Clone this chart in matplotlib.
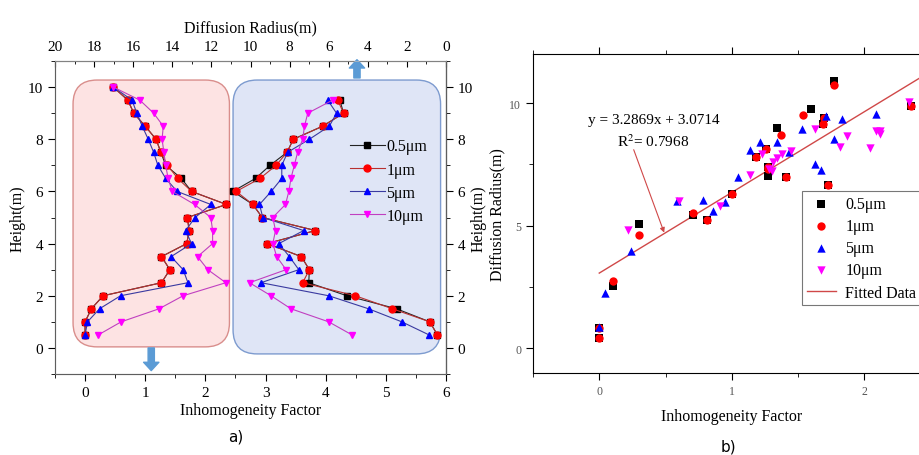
import matplotlib
matplotlib.use('Agg')
import matplotlib.pyplot as plt
from matplotlib.patches import FancyBboxPatch
from matplotlib.ticker import MultipleLocator

plt.rcParams['font.family'] = ['Liberation Serif', 'DejaVu Serif']
plt.rcParams['mathtext.fontset'] = 'stix'

# heights of the measuring points (m)
heights = [0.5, 1.0, 1.5, 2.0, 2.5, 3.0, 3.5, 4.0, 4.5, 5.0,
           5.5, 6.0, 6.5, 7.0, 7.5, 8.0, 8.5, 9.0, 9.5, 10.0]

# inhomogeneity factor per particle size (h = 0.5 ... 10)
if_05 = [0.0, 0.0, 0.105, 0.30, 1.27, 1.41, 1.27, 1.69, 1.73, 1.70,
         2.35, 1.77, 1.60, 1.34, 1.26, 1.18, 1.00, 0.81, 0.71, 0.47]
if_1 = [0.0, 0.0, 0.105, 0.30, 1.27, 1.41, 1.27, 1.69, 1.73, 1.70,
        2.35, 1.77, 1.54, 1.37, 1.26, 1.18, 1.00, 0.81, 0.71, 0.47]
if_5 = [0.0, 0.04, 0.24, 0.59, 1.71, 1.63, 1.43, 1.77, 1.67, 1.83,
        2.09, 1.53, 1.34, 1.21, 1.14, 1.05, 0.95, 0.86, 0.78, 0.47]
if_10 = [0.22, 0.60, 1.23, 1.63, 2.34, 2.04, 1.87, 2.12, 2.12, 2.09,
         1.82, 1.45, 1.38, 1.34, 1.31, 1.28, 1.30, 1.14, 0.91, 0.47]

# diffusion radius per particle size (h = 0.5 ... 9.5)
r_05 = [0.44, 0.83, 2.53, 5.07, 7.02, 6.99, 7.40, 9.15, 6.68, 9.40,
        9.88, 10.90, 9.74, 9.00, 8.13, 7.81, 6.31, 5.24, 5.43]
r_1 = [0.44, 0.83, 2.74, 4.64, 7.33, 6.99, 7.40, 9.15, 6.68, 9.40,
       9.88, 10.73, 9.51, 8.69, 8.13, 7.81, 6.31, 5.24, 5.54]
r_5 = [0.87, 2.26, 3.96, 6.00, 9.46, 7.53, 8.01, 8.55, 7.28, 9.37,
       9.54, 8.94, 8.40, 8.40, 8.10, 6.99, 5.97, 5.60, 6.05]
r_10 = [4.81, 6.00, 7.93, 8.95, 10.05, 8.18, 8.66, 8.86, 8.72, 8.86,
        8.21, 8.04, 7.93, 7.76, 7.59, 7.33, 7.24, 7.07, 5.80]

labels = ['0.5\u03bcm', '1\u03bcm', '5\u03bcm', '10\u03bcm']
fit_slope, fit_icpt = 3.2869, 3.0714

series = [
    (if_05, r_05, 's', '#000000', '#222222'),
    (if_1, r_1, 'o', '#ff0000', '#b83030'),
    (if_5, r_5, '^', '#0000ff', '#3a3aa0'),
    (if_10, r_10, 'v', '#ff00ff', '#c040c0'),
]

fig = plt.figure(figsize=(9.2, 4.56), dpi=100)

# ---------------- a) ----------------
ax = fig.add_axes([55/920, 81/456, 391/920, 313/456])
ax.set_xlim(-0.5, 6)
ax.set_ylim(-1, 11)

asp = (391/6.5) / (313/12)
ax.add_patch(FancyBboxPatch((-0.2, 0.04), 2.6, 10.23,
                            boxstyle='round,pad=0,rounding_size=0.4',
                            mutation_aspect=asp, fc='#fde3e3', ec='#d98e8c',
                            lw=1, zorder=0))
ax.add_patch(FancyBboxPatch((2.46, -0.23), 3.45, 10.5,
                            boxstyle='round,pad=0,rounding_size=0.4',
                            mutation_aspect=asp, fc='#dfe5f6', ec='#7d9bcf',
                            lw=1, zorder=0))

for (xf, rr, mk, mc, lc), lab in zip(series, labels):
    ax.plot(xf, heights, color=lc, lw=0.8, marker=mk, ms=5,
            mfc=mc, mec=mc, zorder=3)

ax.set_xlabel('Inhomogeneity Factor', fontsize=11.5, labelpad=2)
ax.set_ylabel('Height(m)', fontsize=11.5, labelpad=2)
ax.xaxis.set_major_locator(MultipleLocator(1))
ax.xaxis.set_minor_locator(MultipleLocator(0.5))
ax.yaxis.set_major_locator(MultipleLocator(2))
ax.yaxis.set_minor_locator(MultipleLocator(1))
ax.tick_params(which='both', direction='out', labelsize=11, top=False)
ax.tick_params(which='major', length=5)
ax.tick_params(which='minor', length=3)

sec = ax.secondary_yaxis('right')
sec.yaxis.set_major_locator(MultipleLocator(2))
sec.yaxis.set_minor_locator(MultipleLocator(1))
sec.tick_params(which='both', direction='out', labelsize=11)
sec.tick_params(which='major', length=5)
sec.tick_params(which='minor', length=3)
sec.set_ylabel('Height(m)', fontsize=11.5, labelpad=-2)

axt = ax.twiny()
axt.set_xlim(20, 0)
axt.set_ylim(-1, 11)
handles = []
for (xf, rr, mk, mc, lc), lab in zip(series, labels):
    h, = axt.plot(rr, heights[:len(rr)], color=lc, lw=0.8, marker=mk,
                  ms=5, mfc=mc, mec=mc, label=lab, zorder=3)
    handles.append(h)
axt.xaxis.set_major_locator(MultipleLocator(2))
axt.xaxis.set_minor_locator(MultipleLocator(1))
axt.tick_params(which='both', direction='in', labelsize=11, pad=6)
axt.tick_params(which='major', length=4)
axt.tick_params(which='minor', length=2.5)
axt.set_xlabel('Diffusion Radius(m)', fontsize=11.5, labelpad=6)
for s in axt.spines.values():
    s.set_linewidth(0.5)
    s.set_color('#888888')
axt.spines['top'].set_color('#bbbbbb')
leg = axt.legend(handles=handles, loc='upper left',
                 bbox_to_anchor=(0.737, 0.773), borderaxespad=0,
                 fontsize=11.5, handlelength=2.2, handletextpad=0.1,
                 borderpad=0.4, labelspacing=0.45, fancybox=False,
                 framealpha=0, edgecolor='#777777')
leg.get_frame().set_linewidth(0.8)

arrow = dict(arrowstyle='simple,head_length=6,head_width=11,tail_width=4.5',
             mutation_scale=1, fc='#5b9bd5', ec='#5b9bd5',
             shrinkA=0, shrinkB=0)
ax.annotate('', xy=(4.52, 11.05), xytext=(4.52, 10.35), arrowprops=arrow,
            annotation_clip=False, zorder=5)
ax.annotate('', xy=(1.1, -0.87), xytext=(1.1, 0.0), arrowprops=arrow,
            annotation_clip=False, zorder=5)

fig.text(236/920, 1 - 437/456, 'a)', family='DejaVu Sans', fontsize=11,
         ha='center', va='center')

# ---------------- b) ----------------
bx = fig.add_axes([533/920, 82/456, 397.5/920, 319/456])
bx.set_xlim(-0.5, 2.5)
bx.set_ylim(-1, 12)
for (xf, rr, mk, mc, lc), lab in zip(series, labels):
    bx.scatter(xf[:len(rr)], rr, marker=mk, s=36, c=mc, lw=0,
               label=lab, zorder=3)
fx = [0, 2.5]
bx.plot(fx, [fit_slope * v + fit_icpt for v in fx], color='#d04848',
        lw=1, label='Fitted Data', zorder=2)
bx.text(0.41, 9.35, 'y = 3.2869x + 3.0714', fontsize=11, ha='center',
        va='center')
bx.text(0.41, 8.46, 'R$^2$= 0.7968', fontsize=11, ha='center', va='center')
bx.annotate('', xy=(0.49, 4.72), xytext=(0.26, 8.1),
            arrowprops=dict(arrowstyle='-|>', color='#d04848', lw=0.8,
                            mutation_scale=7, shrinkA=0, shrinkB=0))

bx.xaxis.set_major_locator(MultipleLocator(1))
bx.xaxis.set_minor_locator(MultipleLocator(0.5))
bx.yaxis.set_major_locator(MultipleLocator(5))
bx.yaxis.set_minor_locator(MultipleLocator(2.5))
bx.tick_params(which='both', direction='out', labelsize=8.5,
               labelcolor='#555555', top=True)
bx.tick_params(which='major', length=5)
bx.tick_params(which='minor', length=3)
bx.set_xlabel('Inhomogeneity Factor', fontsize=11.5, labelpad=8)
bx.set_ylabel('Diffusion Radius(m)', fontsize=11.5, labelpad=2.5)
bl = bx.legend(loc='upper left', bbox_to_anchor=(0.677, 0.569),
               borderaxespad=0, fontsize=11.5, fancybox=False, framealpha=1,
               edgecolor='#777777', handlelength=1.8, handletextpad=0.6,
               borderpad=0.3, labelspacing=0.38, markerscale=1.0)
bl.get_frame().set_linewidth(0.8)

fig.text(728/920, 1 - 447/456, 'b)', family='DejaVu Sans', fontsize=11,
         ha='center', va='center')

fig.savefig('out.png', dpi=100)
